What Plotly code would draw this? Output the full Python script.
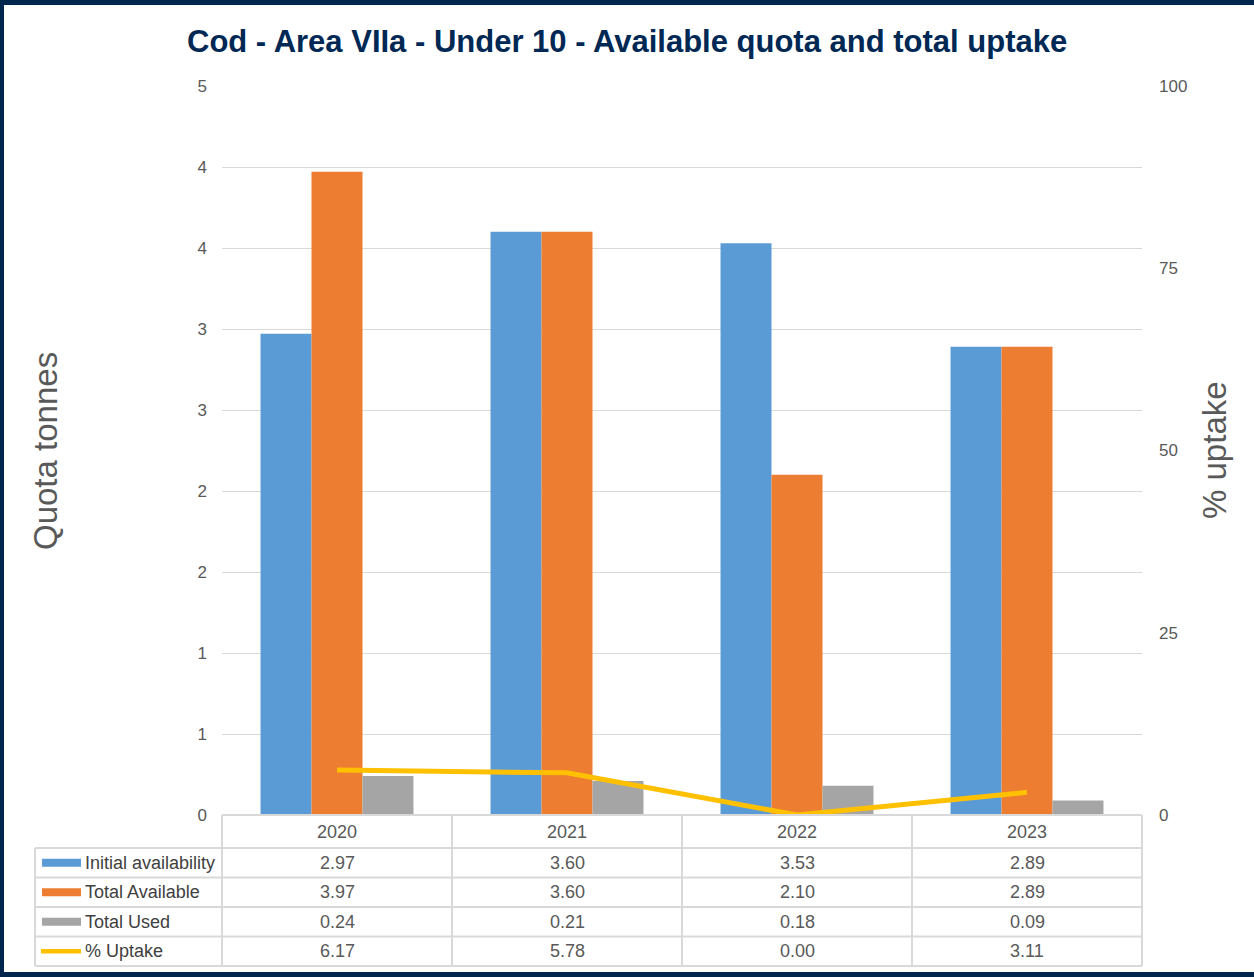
import plotly.graph_objects as go

years = ["2020", "2021", "2022", "2023"]
initial_availability = [2.97, 3.60, 3.53, 2.89]
total_available = [3.97, 3.60, 2.10, 2.89]
total_used = [0.24, 0.21, 0.18, 0.09]
pct_uptake = [6.17, 5.78, 0.00, 3.11]

left_tickvals = [0, 0.5, 1, 1.5, 2, 2.5, 3, 3.5, 4, 4.5]
left_ticktext = ["0", "1", "1", "2", "2", "3", "3", "4", "4", "5"]
right_tickvals = [0, 25, 50, 75, 100]

series_names = ["Initial availability", "Total Available", "Total Used", "% Uptake"]
colors = ["#5B9BD5", "#ED7D31", "#A5A5A5", "#FFC000"]

W, H = 1254, 977
L, R, T, B = 222, 1142, 86, 815
NAVY = "#00264D"
GRID = "#D9D9D9"
TXT = "#595959"
FONT = "Liberation Sans, Arial, sans-serif"


def X(px):
    return (px - L) / (R - L)


def Y(py):
    return (B - py) / (B - T)


fig = go.Figure()
for name, vals, c in zip(series_names[:3], [initial_availability, total_available, total_used], colors[:3]):
    fig.add_trace(go.Bar(x=years, y=vals, name=name, marker=dict(color=c, line=dict(width=0))))
fig.add_trace(go.Scatter(x=years, y=pct_uptake, name=series_names[3], yaxis="y2", mode="lines",
                         line=dict(color=colors[3], width=5)))

fig.update_layout(
    width=W, height=H,
    margin=dict(l=L, r=W - R, t=T, b=H - B, autoexpand=False),
    paper_bgcolor="white", plot_bgcolor="white",
    barmode="group", bargap=0.335, bargroupgap=0,
    showlegend=False,
    font=dict(family=FONT, color=TXT, size=17),
    xaxis=dict(type="category", showticklabels=False, showgrid=False, showline=False,
               zeroline=False, ticks="", range=[-0.5, 3.5]),
    yaxis=dict(range=[0, 4.5], tickvals=left_tickvals, ticktext=left_ticktext,
               showgrid=True, gridcolor=GRID, gridwidth=1.3, zeroline=False,
               showline=False, ticks="", ticklabelstandoff=14,
               tickfont=dict(size=17, color=TXT)),
    yaxis2=dict(range=[0, 100], tickvals=right_tickvals, overlaying="y", side="right",
                showgrid=False, zeroline=False, showline=False, ticks="",
                ticklabelstandoff=16, tickfont=dict(size=17, color=TXT)),
)

shapes = []
ann = []

# Title
ann.append(dict(text="<b>Cod - Area VIIa - Under 10 - Available quota and total uptake</b>",
                xref="paper", yref="paper", x=X(627), y=Y(42), xanchor="center", yanchor="middle",
                showarrow=False, font=dict(size=31, color="#002855", family=FONT)))
# Axis titles
ann.append(dict(text="Quota tonnes", xref="paper", yref="paper", x=X(45), y=Y(451),
                textangle=-90, showarrow=False, xanchor="center", yanchor="middle",
                font=dict(size=33, color=TXT)))
ann.append(dict(text="% uptake", xref="paper", yref="paper", x=X(1214), y=Y(450),
                textangle=-90, showarrow=False, xanchor="center", yanchor="middle",
                font=dict(size=33, color=TXT)))

# Data table
row_lines = [815, 848, 877.5, 907, 936.5, 966]
col_lines = [222, 452, 682, 912, 1142]
lw = 2
shapes.append(dict(type="line", xref="paper", yref="paper", x0=X(222), x1=X(1142),
                   y0=Y(815), y1=Y(815), line=dict(color=GRID, width=lw)))
for ry in row_lines[1:]:
    shapes.append(dict(type="line", xref="paper", yref="paper", x0=X(35), x1=X(1142),
                       y0=Y(ry), y1=Y(ry), line=dict(color=GRID, width=lw)))
shapes.append(dict(type="line", xref="paper", yref="paper", x0=X(35), x1=X(35),
                   y0=Y(848), y1=Y(966), line=dict(color=GRID, width=lw)))
for cx in col_lines:
    shapes.append(dict(type="line", xref="paper", yref="paper", x0=X(cx), x1=X(cx),
                       y0=Y(815), y1=Y(966), line=dict(color=GRID, width=lw)))

for ci, yr in enumerate(years):
    ann.append(dict(text=yr, xref="x", yref="paper", x=ci, y=Y((row_lines[0] + row_lines[1]) / 2),
                    showarrow=False, xanchor="center", yanchor="middle", font=dict(size=18, color=TXT)))

table_rows = [initial_availability, total_available, total_used, pct_uptake]
for i, (name, vals, c) in enumerate(zip(series_names, table_rows, colors)):
    cy = (row_lines[i + 1] + row_lines[i + 2]) / 2
    for ci, v in enumerate(vals):
        ann.append(dict(text=f"{v:.2f}", xref="x", yref="paper", x=ci, y=Y(cy),
                        showarrow=False, xanchor="center", yanchor="middle",
                        font=dict(size=18, color=TXT)))
    ann.append(dict(text=name, xref="paper", yref="paper", x=X(83), y=Y(cy),
                    showarrow=False, xanchor="left", yanchor="middle",
                    font=dict(size=18, color="#404040")))
    if i < 3:
        shapes.append(dict(type="rect", xref="paper", yref="paper", x0=X(42), x1=X(81),
                           y0=Y(cy - 4), y1=Y(cy + 4), line=dict(width=0), fillcolor=c))
    else:
        shapes.append(dict(type="line", xref="paper", yref="paper", x0=X(41), x1=X(81),
                           y0=Y(cy), y1=Y(cy), line=dict(width=4.5, color=c)))

# Outer frame
shapes.append(dict(type="rect", xref="paper", yref="paper", x0=X(0), x1=X(W), y0=Y(0), y1=Y(5),
                   line=dict(width=0), fillcolor=NAVY))
shapes.append(dict(type="rect", xref="paper", yref="paper", x0=X(0), x1=X(4), y0=Y(0), y1=Y(H),
                   line=dict(width=0), fillcolor=NAVY))
shapes.append(dict(type="rect", xref="paper", yref="paper", x0=X(0), x1=X(W), y0=Y(972), y1=Y(H),
                   line=dict(width=0), fillcolor=NAVY))

fig.update_layout(shapes=shapes, annotations=ann)
fig.write_html("out.html", config={"displayModeBar": False},
               post_script="document.body.style.margin='0';")
